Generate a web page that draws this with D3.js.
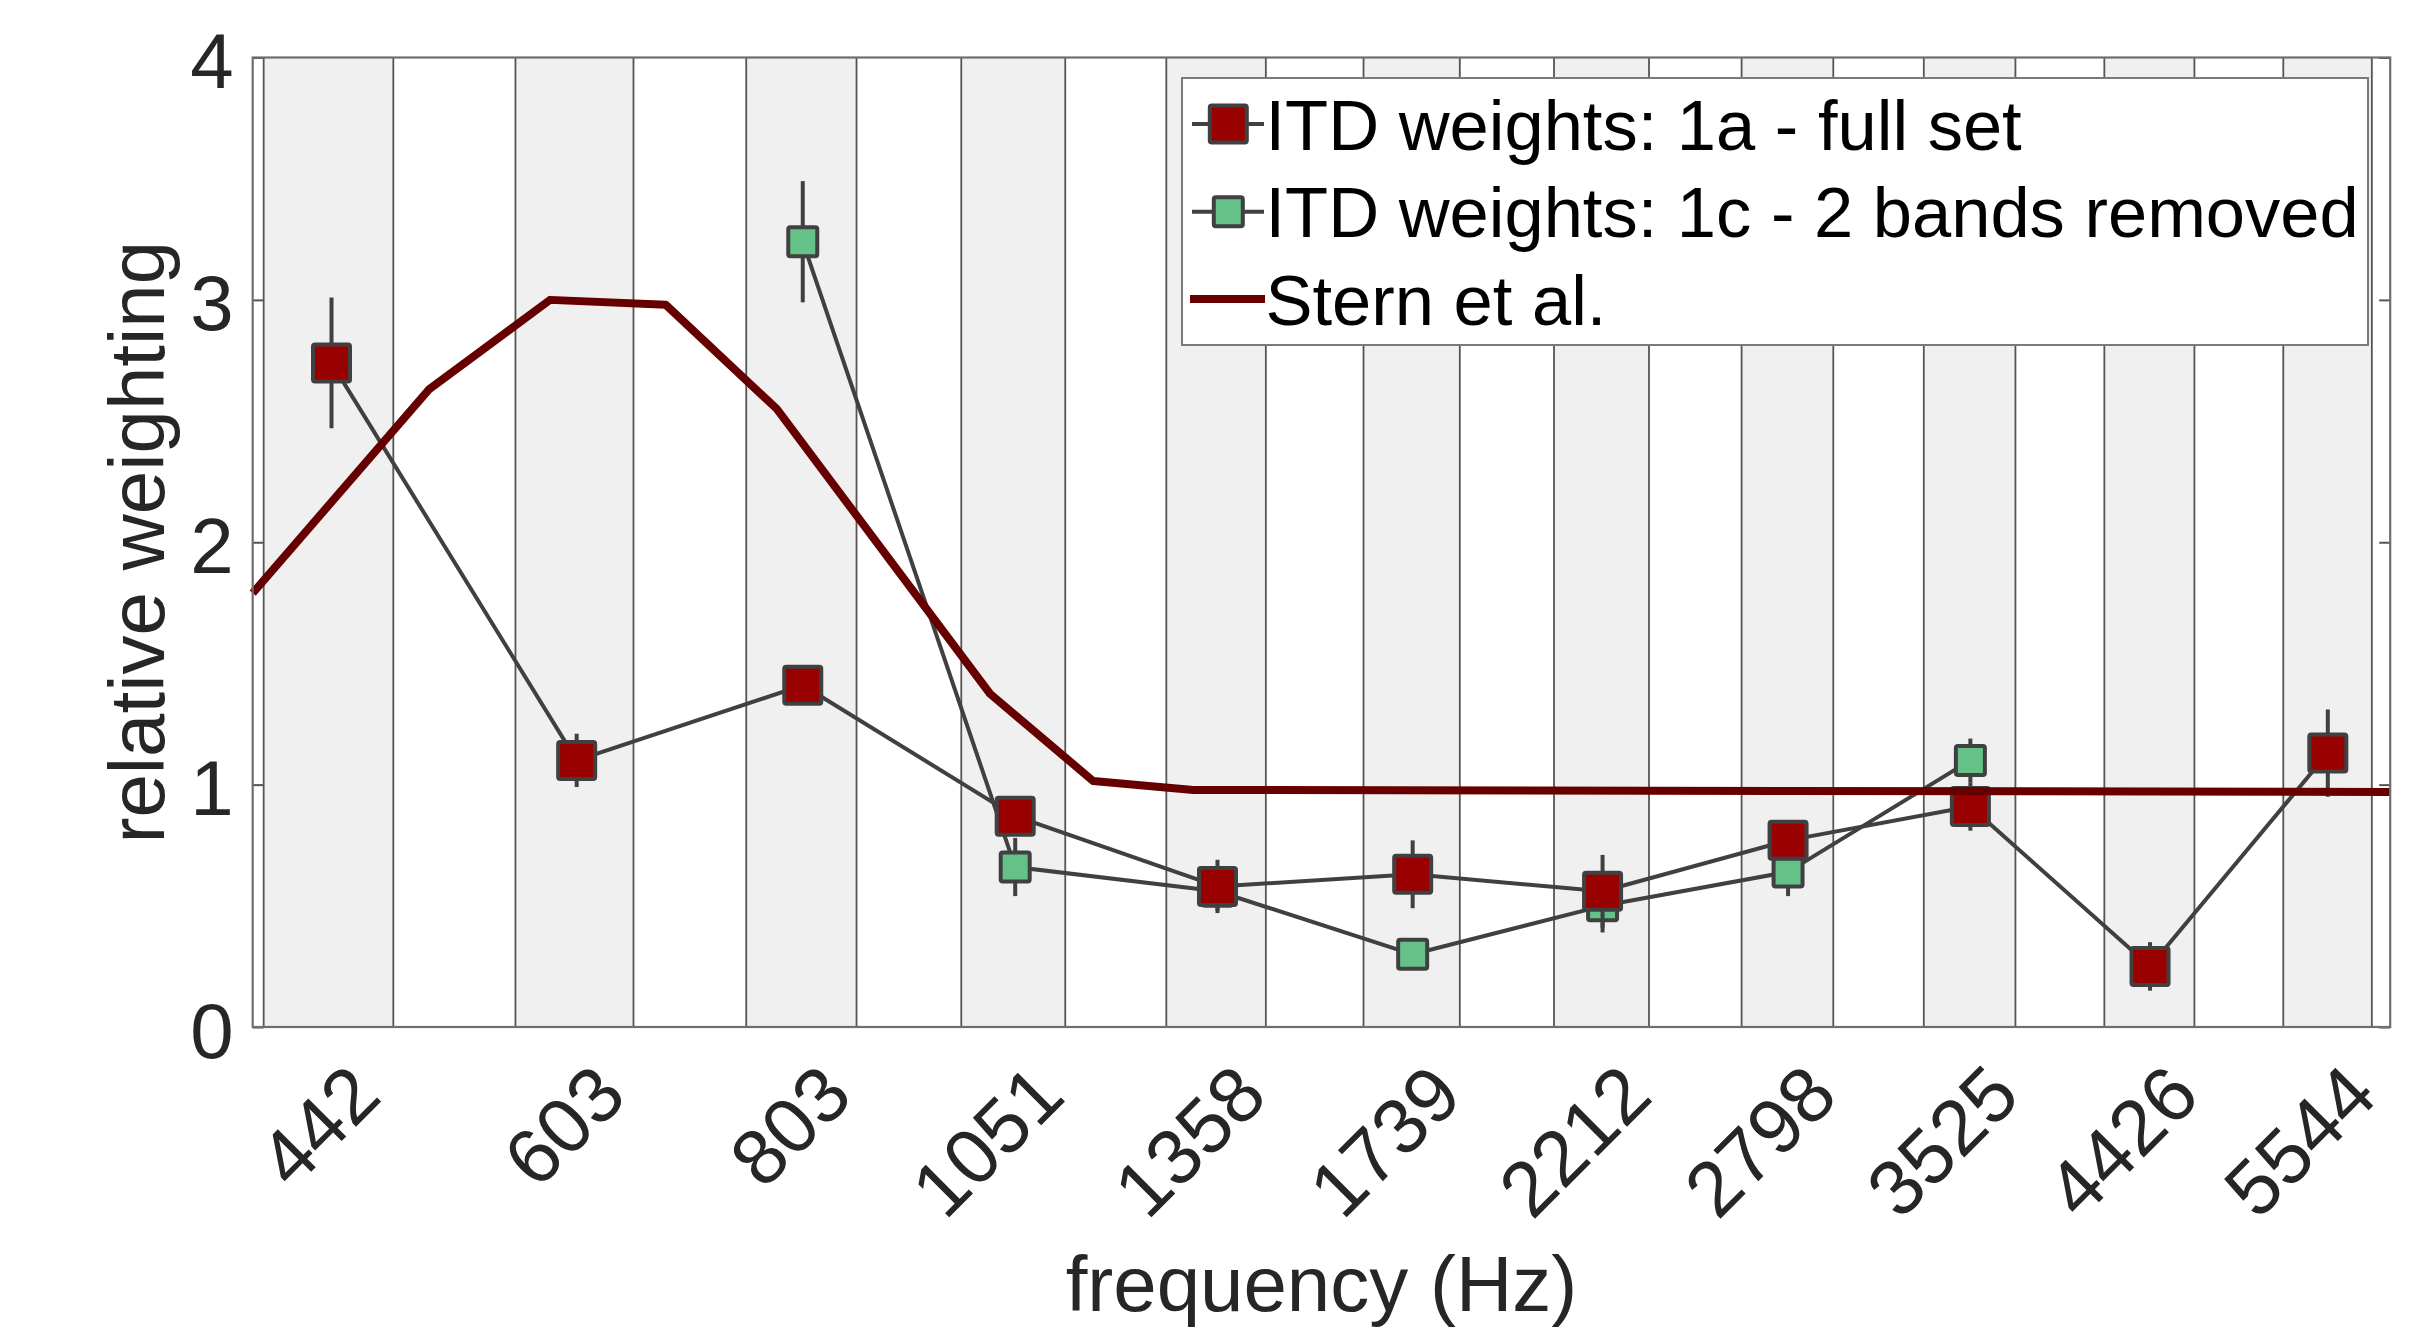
<!DOCTYPE html>
<html>
<head>
<meta charset="utf-8">
<script src="https://cdn.jsdelivr.net/npm/d3@7"></script>
<style>
  html, body { margin: 0; padding: 0; background: #fff; }
  svg { display: block; }
  text { font-family: "Liberation Sans", Arial, Helvetica, sans-serif; }
</style>
</head>
<body>
<script>
// Band centre frequencies (Hz), also the x tick labels
const frequencies = [442, 603, 803, 1051, 1358, 1739, 2212, 2798, 3525, 4426, 5544];
// Edges of the shaded analysis bands (Hz)
const bandLow  = [405.6, 558, 747.5, 981.6, 1272.8, 1634, 2080, 2638, 3323, 4177, 5240];
const bandHigh = [478, 648, 859.6, 1119.8, 1443.8, 1846, 2346, 2963, 3732, 4682, 5862];
// Experiment 1a: full set of bands
const weights1a = [2.74, 1.10, 1.41, 0.87, 0.58, 0.63, 0.56, 0.77, 0.91, 0.25, 1.13];
const errors1a  = [0.27, 0.11, 0.05, 0.07, 0.11, 0.14, 0.15, 0.06, 0.10, 0.10, 0.18];
// Experiment 1c: two bands removed
const freqs1c   = [803, 1051, 1358, 1739, 2212, 2798, 3525];
const weights1c = [3.24, 0.66, 0.56, 0.30, 0.50, 0.64, 1.10];
const errors1c  = [0.25, 0.12, 0.08, 0.06, 0.11, 0.10, 0.09];
// Stern et al. weighting function
const sternFreqs   = [400, 500, 583, 675, 777, 1018, 1160, 1317, 6000];
const sternWeights = [1.79, 2.63, 3.00, 2.98, 2.55, 1.375, 1.015, 0.978, 0.97];
// Axis settings
const xDomain = [400, 6000];
const yTicks = [0, 1, 2, 3, 4];
const seriesNames = ["ITD weights: 1a - full set", "ITD weights: 1c - 2 bands removed", "Stern et al."];
const xLabel = "frequency (Hz)";
const yLabel = "relative weighting";

const W = 2435, H = 1328;
const plot = { left: 252.7, right: 2390.2, top: 57.5, bottom: 1027 };

const RED = "#990000", GREEN = "#64c187", STERN = "#660000", EDGE = "#404040";
const TEXT = "#262626";

const svg = d3.select("body").append("svg")
  .attr("width", W).attr("height", H)
  .attr("viewBox", `0 0 ${W} ${H}`);

const x = d3.scaleLog().domain(xDomain).range([plot.left, plot.right]);
const y = d3.scaleLinear().domain([0, 4]).range([plot.bottom, plot.top]);

// Shaded bands
const bands = frequencies.map((f, i) => ({ lo: bandLow[i], hi: bandHigh[i] }));
const gBands = svg.append("g");
gBands.selectAll("rect").data(bands).join("rect")
  .attr("x", d => x(d.lo)).attr("y", plot.top)
  .attr("width", d => x(d.hi) - x(d.lo)).attr("height", plot.bottom - plot.top)
  .attr("fill", "#f0f0f0");
const edges = bands.flatMap(d => [d.lo, d.hi]);
gBands.selectAll("line").data(edges).join("line")
  .attr("x1", d => x(d)).attr("x2", d => x(d))
  .attr("y1", plot.top).attr("y2", plot.bottom)
  .attr("stroke", "#555").attr("stroke-width", 1.8);

// Y axes (left with labels, right with inward ticks only)
const yAxisL = svg.append("g").attr("transform", `translate(${plot.left},0)`)
  .call(d3.axisLeft(y).tickValues(yTicks).tickFormat(d3.format("d"))
    .tickSize(-11).tickSizeOuter(0).tickPadding(19));
yAxisL.select(".domain").remove();
yAxisL.selectAll(".tick line").attr("stroke", "#555").attr("stroke-width", 2);
yAxisL.selectAll(".tick text")
  .attr("font-size", 78).attr("fill", TEXT).attr("dy", "0.385em")
  .style("font-family", '"Liberation Sans", Arial, sans-serif');

const yAxisR = svg.append("g").attr("transform", `translate(${plot.right},0)`)
  .call(d3.axisRight(y).tickValues(yTicks).tickFormat("")
    .tickSize(-11).tickSizeOuter(0));
yAxisR.select(".domain").remove();
yAxisR.selectAll(".tick line").attr("stroke", "#555").attr("stroke-width", 2);

// X axis with rotated labels
const xAxis = svg.append("g").attr("transform", `translate(0,${plot.bottom})`)
  .call(d3.axisBottom(x).tickValues(frequencies).tickFormat(d3.format("d"))
    .tickSize(0).tickSizeOuter(0));
xAxis.select(".domain").remove();
xAxis.selectAll(".tick text")
  .attr("font-size", 78).attr("fill", TEXT)
  .attr("x", 0).attr("y", 0).attr("dy", "0.905em")
  .attr("text-anchor", "end")
  .attr("transform", "translate(2,22) rotate(-45)")
  .style("font-family", '"Liberation Sans", Arial, sans-serif');

// Axis titles
svg.append("text")
  .attr("transform", `translate(164,${(plot.top + plot.bottom) / 2}) rotate(-90)`)
  .attr("text-anchor", "middle").attr("font-size", 78).attr("fill", TEXT)
  .text(yLabel);
svg.append("text")
  .attr("x", (plot.left + plot.right) / 2).attr("y", 1311)
  .attr("text-anchor", "middle").attr("font-size", 78).attr("fill", TEXT)
  .text(xLabel);

const line = d3.line().x(d => x(d.f)).y(d => y(d.v));

function drawSeries(freqs, vals, errs, fill, size) {
  const pts = freqs.map((f, i) => ({ f, v: vals[i], e: errs[i] }));
  const g = svg.append("g");
  g.append("path").datum(pts).attr("d", line)
    .attr("fill", "none").attr("stroke", EDGE).attr("stroke-width", 4)
    .attr("stroke-linejoin", "round");
  g.selectAll("line.err").data(pts).join("line").attr("class", "err")
    .attr("x1", d => x(d.f)).attr("x2", d => x(d.f))
    .attr("y1", d => y(d.v - d.e)).attr("y2", d => y(d.v + d.e))
    .attr("stroke", EDGE).attr("stroke-width", 4);
  g.selectAll("rect").data(pts).join("rect")
    .attr("x", d => x(d.f) - size / 2).attr("y", d => y(d.v) - size / 2)
    .attr("width", size).attr("height", size).attr("rx", 2)
    .attr("fill", fill).attr("stroke", EDGE).attr("stroke-width", 4);
}

drawSeries(freqs1c, weights1c, errors1c, GREEN, 29);
drawSeries(frequencies, weights1a, errors1a, RED, 37);

// Stern et al. curve
svg.append("path")
  .datum(sternFreqs.map((f, i) => ({ f, v: sternWeights[i] })))
  .attr("d", line).attr("fill", "none")
  .attr("stroke", STERN).attr("stroke-width", 8).attr("stroke-linejoin", "round");

// Axes box
svg.append("rect")
  .attr("x", plot.left).attr("y", plot.top)
  .attr("width", plot.right - plot.left).attr("height", plot.bottom - plot.top)
  .attr("fill", "none").attr("stroke", "#6e6e6e").attr("stroke-width", 2.2);

// Legend
const legend = svg.append("g");
legend.append("rect")
  .attr("x", 1182).attr("y", 78).attr("width", 1186).attr("height", 267)
  .attr("fill", "#fff").attr("stroke", "#7a7a7a").attr("stroke-width", 2);
const rows = [124, 211.7, 299];
const legendItems = [
  { name: seriesNames[0], type: "marker", fill: RED, size: 37 },
  { name: seriesNames[1], type: "marker", fill: GREEN, size: 29 },
  { name: seriesNames[2], type: "line" }
];
legendItems.forEach((it, i) => {
  const cy = rows[i];
  if (it.type === "marker") {
    legend.append("line").attr("x1", 1192).attr("x2", 1264).attr("y1", cy).attr("y2", cy)
      .attr("stroke", EDGE).attr("stroke-width", 4);
    legend.append("rect")
      .attr("x", 1228.3 - it.size / 2).attr("y", cy - it.size / 2)
      .attr("width", it.size).attr("height", it.size).attr("rx", 2)
      .attr("fill", it.fill).attr("stroke", EDGE).attr("stroke-width", 4);
  } else {
    legend.append("line").attr("x1", 1190).attr("x2", 1265).attr("y1", cy).attr("y2", cy)
      .attr("stroke", STERN).attr("stroke-width", 8);
  }
  legend.append("text")
    .attr("x", 1265.5).attr("y", cy + 25.5)
    .attr("font-size", 70.5).attr("fill", "#000")
    .text(it.name);
});
</script>
</body>
</html>
